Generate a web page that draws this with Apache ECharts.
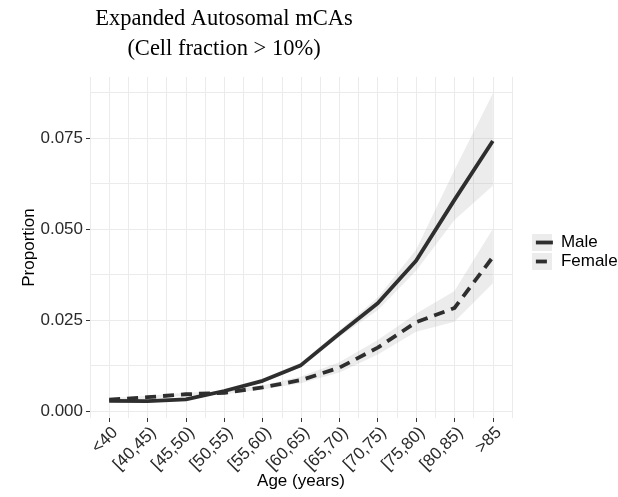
<!DOCTYPE html>
<html>
<head>
<meta charset="utf-8">
<script src="https://cdn.jsdelivr.net/npm/echarts@6/dist/echarts.min.js"></script>
<style>
  html, body { margin: 0; padding: 0; background: #ffffff; }
  #chart { width: 618px; height: 497px; }
</style>
</head>
<body>
<div id="chart"></div>
<script>
// Age groups along the x axis
var ageGroups = ['<40', '[40,45)', '[45,50)', '[50,55)', '[55,60)', '[60,65)',
                 '[65,70)', '[70,75)', '[75,80)', '[80,85)', '>85'];

// Proportion with expanded autosomal mCAs (cell fraction > 10%)
var maleProp   = [0.0028, 0.0027, 0.0032, 0.0055, 0.0083, 0.0126, 0.0212, 0.0296, 0.0413, 0.0580, 0.0742];
var femaleProp = [0.0031, 0.0038, 0.0046, 0.0050, 0.0065, 0.0085, 0.0119, 0.0174, 0.0244, 0.0283, 0.0423];

// Confidence band limits
var maleLower   = [0.0024, 0.0024, 0.0029, 0.0051, 0.0078, 0.0120, 0.0204, 0.0277, 0.0385, 0.0525, 0.0619];
var maleUpper   = [0.0032, 0.0031, 0.0036, 0.0060, 0.0089, 0.0133, 0.0221, 0.0312, 0.0443, 0.0662, 0.0872];
var femaleLower = [0.0027, 0.0034, 0.0042, 0.0046, 0.0059, 0.0076, 0.0106, 0.0155, 0.0218, 0.0245, 0.0351];
var femaleUpper = [0.0035, 0.0042, 0.0050, 0.0055, 0.0071, 0.0095, 0.0134, 0.0195, 0.0267, 0.0330, 0.0500];

// Y axis tick labels and grid positions
var yTicks = [0, 0.025, 0.05, 0.075];
var yGrid  = [0, 0.0125, 0.025, 0.0375, 0.05, 0.0625, 0.075, 0.0875];

var Y_MIN = -0.00192, Y_MAX = 0.09176;
var SANS = '"Liberation Sans", Arial, Helvetica, sans-serif';
var LINE = '#2e2e2e';
var GRID = '#ebebeb';
var BAND = 'rgba(170,170,170,0.22)';
var TICK_TEXT = '#2a2a2a';

function widths(lo, hi) {
  return hi.map(function (v, i) { return +(v - lo[i]).toFixed(5); });
}

function bandSeries(name, lo, hi) {
  return [{
    name: name + ' lower', type: 'line', stack: name, data: lo,
    symbol: 'none', silent: true, lineStyle: { opacity: 0 }, z: 1
  }, {
    name: name + ' band', type: 'line', stack: name, data: widths(lo, hi),
    symbol: 'none', silent: true, lineStyle: { opacity: 0 },
    areaStyle: { color: BAND, opacity: 1 }, z: 1
  }];
}

var chart = echarts.init(document.getElementById('chart'), null, { renderer: 'canvas' });

var legendText = { fontFamily: SANS, fontSize: 17, color: '#000', lineHeight: 19, padding: [0, 0, 0, 3] };

chart.setOption({
  animation: false,
  backgroundColor: '#ffffff',
  title: {
    text: 'Expanded Autosomal mCAs\n(Cell fraction > 10%)',
    left: 219, top: -1, textAlign: 'center',
    textStyle: { fontFamily: '"Liberation Serif", "Times New Roman", serif', fontWeight: 'normal',
                 fontSize: 22.5, lineHeight: 30, color: '#000' }
  },
  grid: { left: 90, right: 106, top: 77, bottom: 79, containLabel: false, outerBoundsMode: 'none' },
  legend: [{
    orient: 'vertical', left: 532, top: 233, padding: 0, itemGap: 0,
    itemWidth: 20, itemHeight: 17, icon: 'rect',
    itemStyle: { color: '#ececec', borderWidth: 0 },
    data: ['Male', 'Female'],
    textStyle: Object.assign({}, legendText, { color: 'rgba(0,0,0,0)' })
  }, {
    orient: 'vertical', left: 534, top: 233, padding: 0, itemGap: 0,
    itemWidth: 17, itemHeight: 4,
    lineStyle: { width: 3.8 },
    data: ['Male', 'Female'],
    textStyle: legendText
  }],
  xAxis: [{
    type: 'category', data: ageGroups, boundaryGap: true,
    axisLine: { show: false, onZero: false },
    axisTick: { show: true, alignWithLabel: true, length: 4, lineStyle: { color: '#333', width: 1 } },
    axisLabel: { rotate: 45, margin: 6, verticalAlign: 'top', fontFamily: SANS, fontSize: 17,
                 color: TICK_TEXT, interval: 0 },
    splitLine: { show: false },
    name: 'Age (years)', nameLocation: 'middle', nameGap: 55, nameMoveOverlap: false,
    nameTextStyle: { fontFamily: SANS, fontSize: 17, color: '#000' }
  }, {
    type: 'value', min: -0.5, max: 10.5, interval: 0.5, position: 'bottom',
    axisLine: { show: false, onZero: false }, axisTick: { show: false }, axisLabel: { show: false },
    splitLine: { show: true, lineStyle: { color: GRID, width: 1 } }
  }],
  yAxis: [{
    type: 'value', min: Y_MIN, max: Y_MAX,
    axisLine: { show: false, onZero: false },
    axisTick: { show: true, length: 4, customValues: yTicks, lineStyle: { color: '#333', width: 1 } },
    axisLabel: { customValues: yTicks, margin: 7, fontFamily: SANS, fontSize: 17, color: TICK_TEXT,
                 formatter: function (v) { return v.toFixed(3); } },
    splitLine: { show: false },
    name: 'Proportion', nameLocation: 'middle', nameGap: 52, nameMoveOverlap: false,
    nameTextStyle: { fontFamily: SANS, fontSize: 17, color: '#000' }
  }, {
    type: 'value', min: Y_MIN, max: Y_MAX, position: 'left',
    axisLine: { show: false, onZero: false },
    axisTick: { show: false, customValues: yGrid },
    axisLabel: { show: false, customValues: yGrid },
    splitLine: { show: true, lineStyle: { color: GRID, width: 1 } }
  }],
  series: [].concat(
    bandSeries('Male', maleLower, maleUpper),
    bandSeries('Female', femaleLower, femaleUpper),
    [{
      name: 'Male', type: 'line', data: maleProp, symbol: 'none', z: 3,
      itemStyle: { color: LINE },
      lineStyle: { color: LINE, width: 3.8, type: 'solid', join: 'round' }
    }, {
      name: 'Female', type: 'line', data: femaleProp, symbol: 'none', z: 3,
      itemStyle: { color: LINE },
      lineStyle: { color: LINE, width: 3.8, type: [11, 7], cap: 'butt', join: 'round' }
    }]
  )
});
</script>
</body>
</html>
